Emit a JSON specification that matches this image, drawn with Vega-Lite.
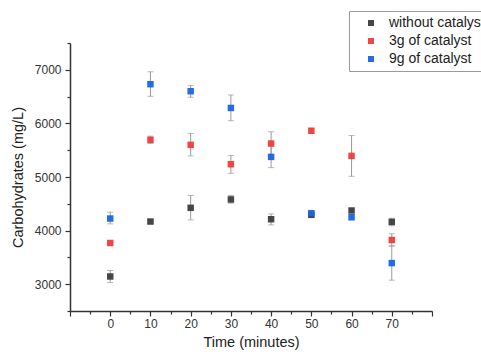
{
  "$schema": "https://vega.github.io/schema/vega-lite/v6.json",
  "width": 362,
  "height": 268,
  "autosize": "none",
  "padding": {"left": 70, "top": 43, "right": 49, "bottom": 43},
  "config": {
    "view": {"stroke": null},
    "font": "Liberation Sans",
    "axis": {"grid": false, "domainColor": "#333", "domainWidth": 1.5, "tickColor": "#333", "tickWidth": 1.2, "labelColor": "#333", "titleColor": "#222", "labelFont": "Liberation Sans", "titleFont": "Liberation Sans", "labelFontSize": 12, "titleFontSize": 14.5, "titleFontWeight": "normal"}
  },
  "data": {
    "values": [
      {"t": 0, "v": 3144, "lo": 3031, "hi": 3256, "s": "without catalyst"},
      {"t": 10, "v": 4169, "lo": 4140, "hi": 4200, "s": "without catalyst"},
      {"t": 20, "v": 4425, "lo": 4200, "hi": 4656, "s": "without catalyst"},
      {"t": 30, "v": 4581, "lo": 4512, "hi": 4656, "s": "without catalyst"},
      {"t": 40, "v": 4212, "lo": 4106, "hi": 4312, "s": "without catalyst"},
      {"t": 50, "v": 4294, "lo": 4265, "hi": 4325, "s": "without catalyst"},
      {"t": 60, "v": 4375, "lo": 4345, "hi": 4405, "s": "without catalyst"},
      {"t": 70, "v": 4162, "lo": 4090, "hi": 4230, "s": "without catalyst"},
      {"t": 0, "v": 3769, "lo": 3750, "hi": 3790, "s": "3g of catalyst"},
      {"t": 10, "v": 5694, "lo": 5625, "hi": 5763, "s": "3g of catalyst"},
      {"t": 20, "v": 5600, "lo": 5394, "hi": 5813, "s": "3g of catalyst"},
      {"t": 30, "v": 5238, "lo": 5069, "hi": 5400, "s": "3g of catalyst"},
      {"t": 40, "v": 5625, "lo": 5406, "hi": 5844, "s": "3g of catalyst"},
      {"t": 50, "v": 5863, "lo": 5820, "hi": 5905, "s": "3g of catalyst"},
      {"t": 60, "v": 5394, "lo": 5013, "hi": 5775, "s": "3g of catalyst"},
      {"t": 70, "v": 3825, "lo": 3710, "hi": 3940, "s": "3g of catalyst"},
      {"t": 0, "v": 4225, "lo": 4125, "hi": 4344, "s": "9g of catalyst"},
      {"t": 10, "v": 6731, "lo": 6506, "hi": 6963, "s": "9g of catalyst"},
      {"t": 20, "v": 6600, "lo": 6488, "hi": 6706, "s": "9g of catalyst"},
      {"t": 30, "v": 6288, "lo": 6050, "hi": 6531, "s": "9g of catalyst"},
      {"t": 40, "v": 5375, "lo": 5175, "hi": 5580, "s": "9g of catalyst"},
      {"t": 50, "v": 4325, "lo": 4285, "hi": 4365, "s": "9g of catalyst"},
      {"t": 60, "v": 4250, "lo": 4200, "hi": 4300, "s": "9g of catalyst"},
      {"t": 70, "v": 3394, "lo": 3075, "hi": 3713, "s": "9g of catalyst"}
    ]
  },
  "resolve": {"axis": {"x": "independent", "y": "independent"}},
  "layer": [
    {
      "mark": {"type": "rule", "color": "#9a9a9a", "strokeWidth": 1},
      "encoding": {
        "x": {"field": "t", "type": "quantitative", "scale": {"domain": [-10, 80], "nice": false},
              "axis": {"orient": "bottom", "values": [-5, 5, 15, 25, 35, 45, 55, 65, 75], "labels": false, "domain": false, "tickSize": 3, "title": null}},
        "y": {"field": "lo", "type": "quantitative", "scale": {"domain": [2500, 7500], "nice": false, "zero": false},
              "axis": {"orient": "left", "values": [2500, 3500, 4500, 5500, 6500, 7500], "labels": false, "domain": false, "tickSize": 3, "title": null}},
        "y2": {"field": "hi"}
      }
    },
    {
      "mark": {"type": "tick", "orient": "horizontal", "color": "#9a9a9a", "size": 6, "thickness": 1},
      "encoding": {
        "x": {"field": "t", "type": "quantitative", "axis": null},
        "y": {"field": "lo", "type": "quantitative", "axis": null}
      }
    },
    {
      "mark": {"type": "tick", "orient": "horizontal", "color": "#9a9a9a", "size": 6, "thickness": 1},
      "encoding": {
        "x": {"field": "t", "type": "quantitative", "axis": null},
        "y": {"field": "hi", "type": "quantitative", "axis": null}
      }
    },
    {
      "mark": {"type": "point", "shape": "square", "filled": true, "size": 42, "opacity": 0.95},
      "encoding": {
        "x": {"field": "t", "type": "quantitative",
              "axis": {"orient": "bottom", "values": [-10, 0, 10, 20, 30, 40, 50, 60, 70, 80], "labelExpr": "datum.value < 0 || datum.value > 75 ? '' : datum.label", "tickSize": 5, "labelPadding": 2, "title": "Time (minutes)", "titlePadding": 6}},
        "y": {"field": "v", "type": "quantitative",
              "axis": {"orient": "left", "values": [3000, 4000, 5000, 6000, 7000], "format": "d", "tickSize": 5, "labelPadding": 4, "title": "Carbohydrates (mg/L)", "titlePadding": 9}},
        "color": {"field": "s", "type": "nominal",
                  "scale": {"domain": ["without catalyst", "3g of catalyst", "9g of catalyst"], "range": ["#3d3d3d", "#f03c3c", "#1865e0"]},
                  "legend": {"title": null, "orient": "none", "legendX": 279, "legendY": -32, "strokeColor": "#9a9a9a", "fillColor": "white", "padding": 5, "symbolOffset": 10, "symbolType": "square", "symbolSize": 36, "labelFontSize": 14, "labelColor": "#222", "labelOffset": 11, "rowPadding": 4}}
      }
    }
  ]
}
